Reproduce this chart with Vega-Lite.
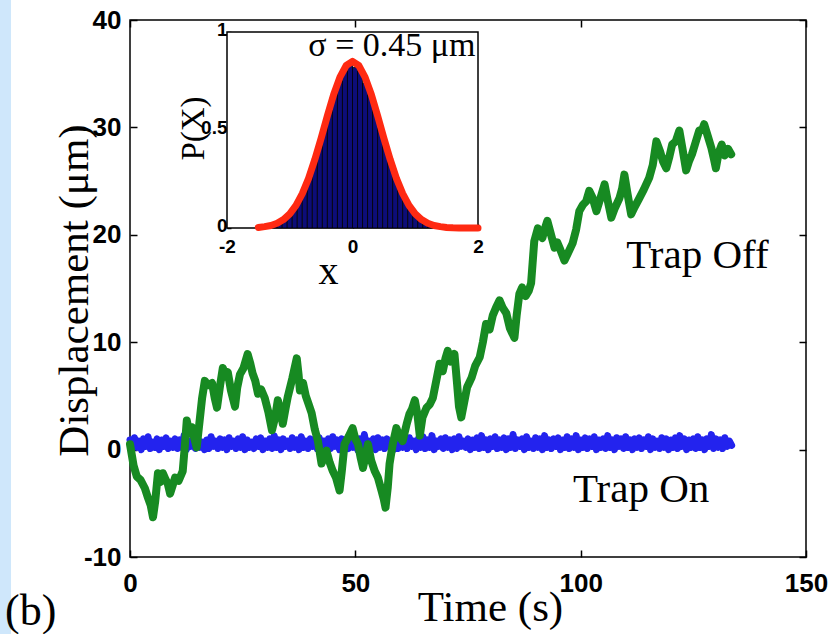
{
  "$schema": "https://vega.github.io/schema/vega-lite/v6.json",
  "width": 676,
  "height": 537,
  "autosize": {"type": "none"},
  "padding": {"left": 130, "top": 20, "right": 30, "bottom": 77},
  "background": "white",
  "title": {"text": "(b)", "orient": "bottom", "anchor": "start", "frame": "group", "dx": -125, "offset": -45, "font": "Liberation Serif", "fontSize": 44, "fontWeight": "normal", "color": "black"},
  "datasets": {
    "off": [
      {"t":0,"d":0.5},{"t":0.8,"d":-1.5},{"t":1.5,"d":-2.5},{"t":2.3,"d":-2.8},{"t":3.3,"d":-3.6},{"t":4.0,"d":-4.5},{"t":4.6,"d":-5.2},{"t":5.1,"d":-6.3},{"t":5.6,"d":-4.8},{"t":6.2,"d":-2.2},
      {"t":6.8,"d":-3.0},{"t":7.3,"d":-2.2},{"t":7.8,"d":-2.7},{"t":8.4,"d":-3.2},{"t":8.9,"d":-4.1},{"t":9.5,"d":-3.3},{"t":10.0,"d":-2.6},{"t":10.8,"d":-2.9},{"t":11.7,"d":-2.0},{"t":12.2,"d":0.5},
      {"t":12.6,"d":2.7},{"t":13.2,"d":1.5},{"t":13.7,"d":2.1},{"t":14.3,"d":1.0},{"t":14.8,"d":0.2},{"t":15.4,"d":2.5},{"t":16.0,"d":4.8},{"t":16.6,"d":6.4},{"t":17.3,"d":6.0},{"t":18.2,"d":6.2},
      {"t":18.8,"d":4.8},{"t":19.3,"d":3.9},{"t":20.0,"d":6.0},{"t":20.6,"d":7.6},{"t":21.2,"d":6.8},{"t":21.7,"d":7.2},{"t":22.4,"d":5.5},{"t":23.3,"d":4.0},{"t":23.8,"d":5.8},{"t":24.4,"d":7.0},
      {"t":25.2,"d":7.6},{"t":26.1,"d":8.9},{"t":26.7,"d":8.0},{"t":27.2,"d":7.1},{"t":27.8,"d":6.4},{"t":28.4,"d":5.2},{"t":29.1,"d":5.6},{"t":29.9,"d":4.8},{"t":30.7,"d":3.5},{"t":31.5,"d":1.8},
      {"t":32.2,"d":3.0},{"t":32.8,"d":4.6},{"t":33.4,"d":3.5},{"t":33.9,"d":2.4},{"t":34.5,"d":3.8},{"t":35.0,"d":4.9},{"t":36.0,"d":6.6},{"t":37.0,"d":8.5},{"t":37.4,"d":7.0},{"t":37.7,"d":5.5},
      {"t":38.4,"d":6.2},{"t":39.0,"d":5.0},{"t":39.5,"d":4.4},{"t":40.3,"d":3.4},{"t":41.0,"d":1.9},{"t":41.7,"d":0.8},{"t":42.5,"d":-1.3},{"t":43.0,"d":-0.6},{"t":43.6,"d":-0.1},{"t":44.3,"d":-1.2},
      {"t":45.0,"d":-2.0},{"t":45.7,"d":-2.6},{"t":46.5,"d":-3.8},{"t":47.0,"d":-2.0},{"t":47.6,"d":0.5},{"t":48.5,"d":1.2},{"t":49.4,"d":2.0},{"t":50.0,"d":1.0},{"t":50.6,"d":0.5},{"t":51.2,"d":-0.8},
      {"t":51.7,"d":-1.7},{"t":52.3,"d":-0.5},{"t":52.8,"d":0.5},{"t":53.5,"d":-1.0},{"t":54.3,"d":-2.0},{"t":55.0,"d":-2.6},{"t":55.8,"d":-3.8},{"t":56.3,"d":-4.6},{"t":56.7,"d":-5.4},{"t":57.2,"d":-3.5},
      {"t":57.6,"d":-1.3},{"t":58.3,"d":0.5},{"t":59.1,"d":2.0},{"t":59.8,"d":1.2},{"t":60.5,"d":0.8},{"t":61.4,"d":2.4},{"t":62.0,"d":3.3},{"t":62.6,"d":3.8},{"t":63.2,"d":4.6},{"t":63.8,"d":3.2},
      {"t":64.3,"d":1.3},{"t":64.9,"d":3.0},{"t":65.8,"d":3.9},{"t":66.5,"d":4.2},{"t":67.2,"d":4.8},{"t":68.0,"d":6.5},{"t":68.7,"d":8.0},{"t":69.4,"d":7.3},{"t":70.0,"d":8.5},{"t":70.5,"d":9.2},
      {"t":71.2,"d":8.2},{"t":72.0,"d":8.9},{"t":72.6,"d":6.0},{"t":73.0,"d":4.0},{"t":73.5,"d":3.0},{"t":74.2,"d":4.5},{"t":74.8,"d":5.8},{"t":75.8,"d":6.7},{"t":76.6,"d":7.8},{"t":77.6,"d":8.6},
      {"t":78.3,"d":10.0},{"t":79.0,"d":11.7},{"t":79.8,"d":11.2},{"t":80.5,"d":12.5},{"t":81.2,"d":13.2},{"t":82.0,"d":13.9},{"t":82.7,"d":13.2},{"t":83.5,"d":12.7},{"t":84.3,"d":11.3},{"t":85.3,"d":10.4},
      {"t":85.8,"d":12.5},{"t":86.4,"d":14.5},{"t":87.0,"d":15.1},{"t":87.8,"d":14.3},{"t":88.5,"d":14.8},{"t":89.0,"d":15.5},{"t":89.7,"d":19.4},{"t":90.5,"d":20.6},{"t":91.5,"d":19.7},{"t":92.0,"d":20.5},
      {"t":92.6,"d":21.3},{"t":93.3,"d":20.2},{"t":94.2,"d":18.8},{"t":94.8,"d":19.3},{"t":95.5,"d":18.6},{"t":96.4,"d":17.6},{"t":97.2,"d":18.3},{"t":98.2,"d":19.2},{"t":99.0,"d":20.5},{"t":99.7,"d":22.2},
      {"t":100.5,"d":22.8},{"t":101.2,"d":23.1},{"t":101.9,"d":24.1},{"t":102.6,"d":23.5},{"t":103.5,"d":22.2},{"t":104.3,"d":23.3},{"t":105.3,"d":24.7},{"t":106.0,"d":23.2},{"t":106.8,"d":21.6},{"t":107.6,"d":22.5},
      {"t":108.6,"d":23.4},{"t":109.2,"d":24.3},{"t":109.7,"d":25.6},{"t":110.4,"d":23.8},{"t":111.2,"d":21.9},{"t":112.0,"d":22.6},{"t":113.0,"d":23.4},{"t":114.0,"d":24.2},{"t":115.2,"d":25.3},{"t":116.0,"d":26.5},
      {"t":116.8,"d":28.7},{"t":117.6,"d":27.8},{"t":118.3,"d":26.8},{"t":119.0,"d":26.2},{"t":119.7,"d":27.3},{"t":120.3,"d":28.4},{"t":121.1,"d":28.7},{"t":121.9,"d":29.7},{"t":122.6,"d":28.0},{"t":123.4,"d":26.0},
      {"t":124.0,"d":26.8},{"t":124.7,"d":27.5},{"t":125.5,"d":28.6},{"t":126.3,"d":29.7},{"t":127.0,"d":29.8},{"t":127.4,"d":30.3},{"t":128.2,"d":29.2},{"t":129.0,"d":28.1},{"t":129.6,"d":27.0},{"t":130.0,"d":26.2},
      {"t":130.6,"d":27.6},{"t":131.3,"d":28.4},{"t":132.0,"d":27.4},{"t":132.7,"d":28.0},{"t":133.4,"d":27.5}
    ],
    "on": [
      {"t":0,"d":0.9},{"t":0.5,"d":0.1},{"t":1,"d":1.1},{"t":1.5,"d":0.2},{"t":2,"d":0.8},{"t":2.5,"d":0.0},{"t":3,"d":1.0},{"t":3.5,"d":0.3},{"t":4,"d":1.2},{"t":4.5,"d":0.1},
      {"t":5,"d":0.7},{"t":5.5,"d":0.2},{"t":6,"d":1.0},{"t":6.5,"d":0.0},{"t":7,"d":0.9},{"t":7.5,"d":0.3},{"t":8,"d":1.1},{"t":8.5,"d":0.1},{"t":9,"d":0.8},{"t":9.5,"d":0.2},
      {"t":10,"d":1.0},{"t":10.5,"d":0.1},{"t":11,"d":0.9},{"t":11.5,"d":0.2},{"t":12,"d":1.3},{"t":12.5,"d":0.0},{"t":13,"d":0.8},{"t":13.5,"d":0.3},{"t":14,"d":1.0},{"t":14.5,"d":0.1},
      {"t":15,"d":1.1},{"t":15.5,"d":0.2},{"t":16,"d":0.7},{"t":16.5,"d":0.0},{"t":17,"d":0.9},{"t":17.5,"d":0.1},{"t":18,"d":1.2},{"t":18.5,"d":0.3},{"t":19,"d":0.8},{"t":19.5,"d":0.1},
      {"t":20,"d":1.0},{"t":20.5,"d":0.2},{"t":21,"d":0.9},{"t":21.5,"d":0.0},{"t":22,"d":1.1},{"t":22.5,"d":0.3},{"t":23,"d":0.8},{"t":23.5,"d":0.1},{"t":24,"d":1.0},{"t":24.5,"d":0.2},
      {"t":25,"d":1.2},{"t":25.5,"d":0.0},{"t":26,"d":0.9},{"t":26.5,"d":0.2},{"t":27,"d":0.7},{"t":27.5,"d":0.1},{"t":28,"d":1.0},{"t":28.5,"d":0.3},{"t":29,"d":1.1},{"t":29.5,"d":0.0},
      {"t":30,"d":0.8},{"t":30.5,"d":0.2},{"t":31,"d":1.0},{"t":31.5,"d":0.1},{"t":32,"d":1.3},{"t":32.5,"d":0.2},{"t":33,"d":0.9},{"t":33.5,"d":0.0},{"t":34,"d":1.0},{"t":34.5,"d":0.3},
      {"t":35,"d":0.8},{"t":35.5,"d":0.1},{"t":36,"d":1.1},{"t":36.5,"d":0.2},{"t":37,"d":0.9},{"t":37.5,"d":0.0},{"t":38,"d":1.2},{"t":38.5,"d":0.2},{"t":39,"d":0.8},{"t":39.5,"d":0.1},
      {"t":40,"d":1.0},{"t":40.5,"d":0.3},{"t":41,"d":0.9},{"t":41.5,"d":0.1},{"t":42,"d":1.1},{"t":42.5,"d":0.0},{"t":43,"d":0.8},{"t":43.5,"d":0.2},{"t":44,"d":1.0},{"t":44.5,"d":0.1},
      {"t":45,"d":1.2},{"t":45.5,"d":0.3},{"t":46,"d":0.9},{"t":46.5,"d":0.0},{"t":47,"d":1.0},{"t":47.5,"d":0.2},{"t":48,"d":0.7},{"t":48.5,"d":0.1},{"t":49,"d":1.1},{"t":49.5,"d":0.2},
      {"t":50,"d":0.9},{"t":50.5,"d":0.0},{"t":51,"d":1.0},{"t":51.5,"d":0.2},{"t":52,"d":1.4},{"t":52.5,"d":0.1},{"t":53,"d":0.8},{"t":53.5,"d":0.3},{"t":54,"d":1.0},{"t":54.5,"d":0.0},
      {"t":55,"d":1.1},{"t":55.5,"d":0.2},{"t":56,"d":0.9},{"t":56.5,"d":0.1},{"t":57,"d":1.0},{"t":57.5,"d":0.3},{"t":58,"d":0.8},{"t":58.5,"d":0.0},{"t":59,"d":1.2},{"t":59.5,"d":0.1},
      {"t":60,"d":1.0},{"t":60.5,"d":0.2},{"t":61,"d":0.9},{"t":61.5,"d":0.1},{"t":62,"d":1.1},{"t":62.5,"d":0.3},{"t":63,"d":0.8},{"t":63.5,"d":0.0},{"t":64,"d":1.0},{"t":64.5,"d":0.2},
      {"t":65,"d":1.2},{"t":65.5,"d":0.1},{"t":66,"d":0.9},{"t":66.5,"d":0.2},{"t":67,"d":1.3},{"t":67.5,"d":0.0},{"t":68,"d":0.8},{"t":68.5,"d":0.3},{"t":69,"d":1.0},{"t":69.5,"d":0.1},
      {"t":70,"d":1.1},{"t":70.5,"d":0.2},{"t":71,"d":0.9},{"t":71.5,"d":0.0},{"t":72,"d":1.0},{"t":72.5,"d":0.1},{"t":73,"d":1.2},{"t":73.5,"d":0.3},{"t":74,"d":0.8},{"t":74.5,"d":0.2},
      {"t":75,"d":1.0},{"t":75.5,"d":0.0},{"t":76,"d":0.9},{"t":76.5,"d":0.2},{"t":77,"d":1.1},{"t":77.5,"d":0.1},{"t":78,"d":1.3},{"t":78.5,"d":0.2},{"t":79,"d":0.9},{"t":79.5,"d":0.0},
      {"t":80,"d":1.0},{"t":80.5,"d":0.3},{"t":81,"d":1.2},{"t":81.5,"d":0.1},{"t":82,"d":0.9},{"t":82.5,"d":0.2},{"t":83,"d":1.1},{"t":83.5,"d":0.0},{"t":84,"d":1.0},{"t":84.5,"d":0.2},
      {"t":85,"d":1.4},{"t":85.5,"d":0.1},{"t":86,"d":0.9},{"t":86.5,"d":0.3},{"t":87,"d":1.0},{"t":87.5,"d":0.0},{"t":88,"d":1.2},{"t":88.5,"d":0.2},{"t":89,"d":0.8},{"t":89.5,"d":0.1},
      {"t":90,"d":1.1},{"t":90.5,"d":0.2},{"t":91,"d":1.0},{"t":91.5,"d":0.0},{"t":92,"d":1.3},{"t":92.5,"d":0.2},{"t":93,"d":0.9},{"t":93.5,"d":0.1},{"t":94,"d":1.0},{"t":94.5,"d":0.3},
      {"t":95,"d":1.1},{"t":95.5,"d":0.0},{"t":96,"d":0.9},{"t":96.5,"d":0.2},{"t":97,"d":1.2},{"t":97.5,"d":0.1},{"t":98,"d":1.0},{"t":98.5,"d":0.2},{"t":99,"d":1.3},{"t":99.5,"d":0.0},
      {"t":100,"d":0.9},{"t":100.5,"d":0.2},{"t":101,"d":1.1},{"t":101.5,"d":0.1},{"t":102,"d":1.0},{"t":102.5,"d":0.3},{"t":103,"d":1.2},{"t":103.5,"d":0.0},{"t":104,"d":0.9},{"t":104.5,"d":0.2},
      {"t":105,"d":1.0},{"t":105.5,"d":0.1},{"t":106,"d":1.3},{"t":106.5,"d":0.2},{"t":107,"d":0.9},{"t":107.5,"d":0.0},{"t":108,"d":1.1},{"t":108.5,"d":0.3},{"t":109,"d":1.0},{"t":109.5,"d":0.1},
      {"t":110,"d":1.2},{"t":110.5,"d":0.2},{"t":111,"d":0.9},{"t":111.5,"d":0.0},{"t":112,"d":1.0},{"t":112.5,"d":0.2},{"t":113,"d":1.1},{"t":113.5,"d":0.1},{"t":114,"d":0.9},{"t":114.5,"d":0.3},
      {"t":115,"d":1.2},{"t":115.5,"d":0.0},{"t":116,"d":1.0},{"t":116.5,"d":0.2},{"t":117,"d":0.8},{"t":117.5,"d":0.1},{"t":118,"d":1.1},{"t":118.5,"d":0.2},{"t":119,"d":1.0},{"t":119.5,"d":0.0},
      {"t":120,"d":0.9},{"t":120.5,"d":0.2},{"t":121,"d":1.1},{"t":121.5,"d":0.1},{"t":122,"d":1.3},{"t":122.5,"d":0.3},{"t":123,"d":1.0},{"t":123.5,"d":0.0},{"t":124,"d":0.9},{"t":124.5,"d":0.2},
      {"t":125,"d":1.0},{"t":125.5,"d":0.1},{"t":126,"d":1.2},{"t":126.5,"d":0.2},{"t":127,"d":0.9},{"t":127.5,"d":0.0},{"t":128,"d":1.0},{"t":128.5,"d":0.3},{"t":129,"d":1.4},{"t":129.5,"d":0.1},
      {"t":130,"d":1.0},{"t":130.5,"d":0.2},{"t":131,"d":0.9},{"t":131.5,"d":0.1},{"t":132,"d":1.1},{"t":132.5,"d":0.3},{"t":133,"d":0.8},{"t":133.5,"d":0.4}
    ],
    "hist": [
      {"x0":-1.28,"x1":-1.20,"p":0.02},{"x0":-1.20,"x1":-1.12,"p":0.03},{"x0":-1.12,"x1":-1.04,"p":0.05},{"x0":-1.04,"x1":-0.96,"p":0.07},
      {"x0":-0.96,"x1":-0.88,"p":0.10},{"x0":-0.88,"x1":-0.80,"p":0.15},{"x0":-0.80,"x1":-0.72,"p":0.20},{"x0":-0.72,"x1":-0.64,"p":0.26},
      {"x0":-0.64,"x1":-0.56,"p":0.34},{"x0":-0.56,"x1":-0.48,"p":0.42},{"x0":-0.48,"x1":-0.40,"p":0.52},{"x0":-0.40,"x1":-0.32,"p":0.60},
      {"x0":-0.32,"x1":-0.24,"p":0.69},{"x0":-0.24,"x1":-0.16,"p":0.75},{"x0":-0.16,"x1":-0.08,"p":0.80},{"x0":-0.08,"x1":0.00,"p":0.83},
      {"x0":0.00,"x1":0.08,"p":0.82},{"x0":0.08,"x1":0.16,"p":0.80},{"x0":0.16,"x1":0.24,"p":0.74},{"x0":0.24,"x1":0.32,"p":0.68},
      {"x0":0.32,"x1":0.40,"p":0.60},{"x0":0.40,"x1":0.48,"p":0.51},{"x0":0.48,"x1":0.56,"p":0.43},{"x0":0.56,"x1":0.64,"p":0.34},
      {"x0":0.64,"x1":0.72,"p":0.27},{"x0":0.72,"x1":0.80,"p":0.20},{"x0":0.80,"x1":0.88,"p":0.14},{"x0":0.88,"x1":0.96,"p":0.10},
      {"x0":0.96,"x1":1.04,"p":0.07},{"x0":1.04,"x1":1.12,"p":0.05},{"x0":1.12,"x1":1.20,"p":0.03},{"x0":1.20,"x1":1.28,"p":0.02}
    ],
    "fit": [
      {"x":-1.5,"p":0.003},{"x":-1.4,"p":0.007},{"x":-1.3,"p":0.013},{"x":-1.2,"p":0.024},{"x":-1.1,"p":0.043},{"x":-1.0,"p":0.072},{"x":-0.9,"p":0.115},{"x":-0.8,"p":0.175},
      {"x":-0.7,"p":0.253},{"x":-0.6,"p":0.350},{"x":-0.5,"p":0.458},{"x":-0.4,"p":0.573},{"x":-0.3,"p":0.681},{"x":-0.2,"p":0.770},{"x":-0.1,"p":0.829},{"x":0.0,"p":0.850},
      {"x":0.1,"p":0.829},{"x":0.2,"p":0.770},{"x":0.3,"p":0.681},{"x":0.4,"p":0.573},{"x":0.5,"p":0.458},{"x":0.6,"p":0.350},{"x":0.7,"p":0.253},{"x":0.8,"p":0.175},
      {"x":0.9,"p":0.115},{"x":1.0,"p":0.072},{"x":1.1,"p":0.043},{"x":1.2,"p":0.024},{"x":1.3,"p":0.013},{"x":1.4,"p":0.007},{"x":1.5,"p":0.003},{"x":1.6,"p":0.001},
      {"x":1.7,"p":0.0},{"x":1.8,"p":0.0},{"x":1.9,"p":0.0},{"x":2.0,"p":0.0}
    ]
  },
  "layer": [
    {
      "data": {"values": [{"x0": -28.9, "x1": -26.4, "y0": -17.3, "y1": 42}]},
      "mark": {"type": "rect", "color": "#cfe7fb", "clip": false},
      "encoding": {
        "x": {"field": "x0", "type": "quantitative", "scale": {"domain": [0, 150], "nice": false, "zero": false}, "axis": null},
        "x2": {"field": "x1"},
        "y": {"field": "y0", "type": "quantitative", "scale": {"domain": [-10, 40], "nice": false, "zero": false}, "axis": null},
        "y2": {"field": "y1"}
      }
    },
    {
      "data": {"name": "on"},
      "mark": {"type": "line", "color": "#2323ee", "strokeWidth": 7, "strokeJoin": "round", "strokeCap": "round"},
      "encoding": {
        "x": {"field": "t", "type": "quantitative", "scale": {"domain": [0, 150], "nice": false, "zero": false},
              "axis": {"orient": "top", "values": [0, 50, 100, 150], "labels": false, "title": null, "domain": false, "tickSize": -7}},
        "y": {"field": "d", "type": "quantitative", "scale": {"domain": [-10, 40], "nice": false, "zero": false},
              "axis": {"orient": "right", "values": [-10, 0, 10, 20, 30, 40], "labels": false, "title": null, "domain": false, "tickSize": -7}}
      }
    },
    {
      "data": {"name": "off"},
      "mark": {"type": "line", "color": "#178a22", "strokeWidth": 8, "strokeJoin": "round", "strokeCap": "round"},
      "encoding": {
        "x": {"field": "t", "type": "quantitative", "scale": {"domain": [0, 150], "nice": false, "zero": false},
              "axis": {"orient": "bottom", "values": [0, 50, 100, 150], "title": "Time (s)", "domain": false, "tickSize": -7, "labelPadding": 20,
                       "titleFontSize": 43, "titleX": 360, "titleY": 63, "titleBaseline": "alphabetic"}},
        "y": {"field": "d", "type": "quantitative", "scale": {"domain": [-10, 40], "nice": false, "zero": false},
              "axis": {"orient": "left", "values": [-10, 0, 10, 20, 30, 40], "title": "Displacement (μm)", "domain": false, "tickSize": -7, "labelPadding": 16,
                       "labelExpr": "replace(datum.label, '−', '-')",
                       "titleFontSize": 43, "titleX": -43, "titleY": 270, "titleBaseline": "alphabetic", "titleAlign": "center"}}
      }
    },
    {
      "data": {"values": [{"t": 110.1, "d": 18.0, "label": "Trap Off"}, {"t": 98.3, "d": -3.8, "label": "Trap On"}]},
      "mark": {"type": "text", "align": "left", "baseline": "middle", "font": "Liberation Serif", "fontSize": 41, "color": "black"},
      "encoding": {
        "x": {"field": "t", "type": "quantitative", "scale": {"domain": [0, 150], "nice": false, "zero": false}, "axis": null},
        "y": {"field": "d", "type": "quantitative", "scale": {"domain": [-10, 40], "nice": false, "zero": false}, "axis": null},
        "text": {"field": "label"}
      }
    },
    {
      "data": {"values": [{"x0": -2, "x1": 2, "y0": 0, "y1": 1}]},
      "mark": {"type": "rect", "fill": "white", "stroke": "black", "strokeWidth": 1.5},
      "encoding": {
        "x": {"field": "x0", "type": "quantitative", "scale": {"domain": [-2, 2], "range": [97, 348], "nice": false, "zero": false},
              "axis": {"orient": "bottom", "offset": -329, "values": [-2, 0, 2], "title": "x", "domain": false, "tickSize": -4, "labelPadding": 13,
                       "labelExpr": "replace(datum.label, '−', '-')",
                       "labelFontSize": 19, "titleFontSize": 40, "titleX": 198, "titleY": 55, "titleBaseline": "alphabetic"}},
        "x2": {"field": "x1"},
        "y": {"field": "y0", "type": "quantitative", "scale": {"domain": [0, 1], "range": [208, 12], "nice": false, "zero": false},
              "axis": {"orient": "left", "offset": -97, "values": [0, 0.5, 1], "format": "~g", "title": "P(X)", "domain": false, "tickSize": -4, "labelPadding": 4,
                       "labelOffset": -3,
                       "labelFontSize": 19, "titleFontSize": 33, "titleX": -24, "titleY": 108, "titleBaseline": "alphabetic", "titleAlign": "center"}},
        "y2": {"field": "y1"}
      }
    },
    {
      "data": {"name": "hist"},
      "mark": {"type": "rect", "fill": "#0d0d78", "stroke": "black", "strokeWidth": 0.8},
      "encoding": {
        "x": {"field": "x0", "type": "quantitative", "scale": {"domain": [-2, 2], "range": [97, 348], "nice": false, "zero": false}, "axis": null},
        "x2": {"field": "x1"},
        "y": {"field": "p", "type": "quantitative", "scale": {"domain": [0, 1], "range": [208, 12], "nice": false, "zero": false}, "axis": null},
        "y2": {"datum": 0}
      }
    },
    {
      "data": {"name": "fit"},
      "mark": {"type": "line", "color": "#ff2a12", "strokeWidth": 7, "strokeJoin": "round", "strokeCap": "round"},
      "encoding": {
        "x": {"field": "x", "type": "quantitative", "scale": {"domain": [-2, 2], "range": [97, 348], "nice": false, "zero": false}, "axis": null},
        "y": {"field": "p", "type": "quantitative", "scale": {"domain": [0, 1], "range": [208, 12], "nice": false, "zero": false}, "axis": null}
      }
    },
    {
      "data": {"values": [{"x": 1.96, "y": 0.93, "label": "σ = 0.45 μm"}]},
      "mark": {"type": "text", "align": "right", "baseline": "middle", "font": "Liberation Serif", "fontSize": 34, "color": "black"},
      "encoding": {
        "x": {"field": "x", "type": "quantitative", "scale": {"domain": [-2, 2], "range": [97, 348], "nice": false, "zero": false}, "axis": null},
        "y": {"field": "y", "type": "quantitative", "scale": {"domain": [0, 1], "range": [208, 12], "nice": false, "zero": false}, "axis": null},
        "text": {"field": "label"}
      }
    }
  ],
  "resolve": {"scale": {"x": "independent", "y": "independent"}},
  "config": {
    "view": {"stroke": "black", "strokeWidth": 1.5},
    "axis": {
      "grid": false,
      "zindex": 1,
      "labelFlush": false,
      "tickColor": "black",
      "tickWidth": 1.5,
      "labelFont": "Liberation Sans",
      "labelFontSize": 26,
      "labelFontWeight": "bold",
      "labelColor": "black",
      "titleFont": "Liberation Serif",
      "titleFontWeight": "normal",
      "titleColor": "black"
    }
  }
}
